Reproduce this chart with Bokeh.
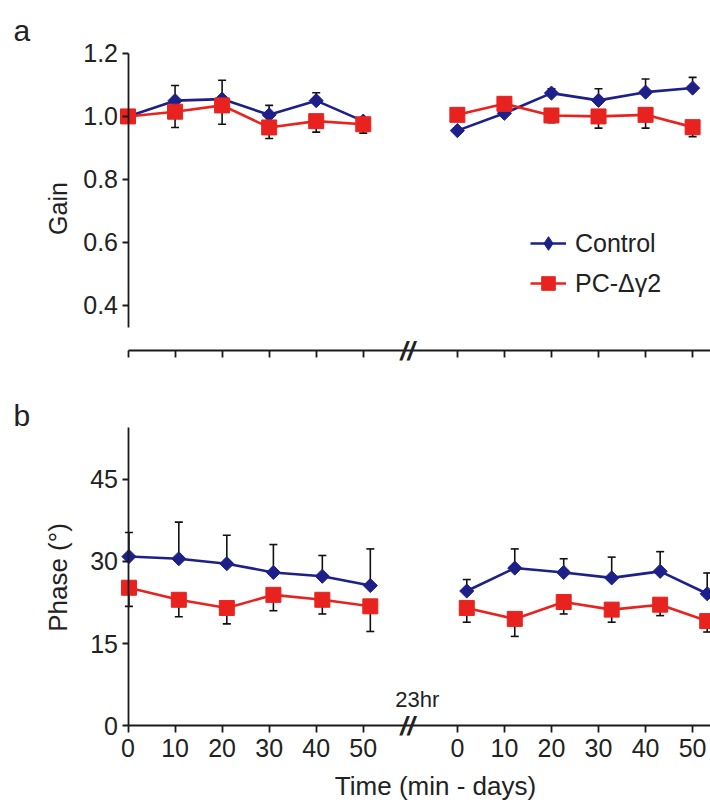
import math
from bokeh.plotting import figure
from bokeh.models import (Range1d, FixedTicker, LinearAxis, Whisker, TeeHead, ColumnDataSource,
                          Legend, LegendItem, Label, NumeralTickFormatter)
from bokeh.layouts import column
from bokeh.embed import file_html
from bokeh.resources import INLINE

# ---------------- data ----------------
gain_time = [0, 10, 20, 30, 40, 50, 70, 80, 90, 100, 110, 120]
gain_ctrl = [1.00, 1.05, 1.055, 1.005, 1.05, 0.985, 0.955, 1.01, 1.074, 1.051, 1.077, 1.09]
gain_ctrl_err = [0, 0.048, 0.06, 0.03, 0.025, 0, 0, 0, 0.014, 0.037, 0.042, 0.034]
gain_pc = [1.00, 1.015, 1.035, 0.965, 0.985, 0.975, 1.005, 1.04, 1.003, 1.0, 1.005, 0.966]
gain_pc_err = [0, 0.05, 0.06, 0.035, 0.035, 0.028, 0, 0, 0.023, 0.037, 0.042, 0.03]

phase_time = [0.2, 10.8, 21.0, 30.9, 41.3, 51.5, 72.0, 82.2, 92.6, 102.8, 113.1, 123.1]
phase_ctrl = [30.9, 30.5, 29.6, 28.0, 27.3, 25.6, 24.6, 28.8, 28.0, 27.0, 28.2, 24.1]
phase_ctrl_err = [4.4, 6.7, 5.2, 5.1, 3.8, 6.7, 2.1, 3.5, 2.5, 3.8, 3.6, 3.8]
phase_pc = [25.2, 23.0, 21.5, 23.9, 23.0, 21.8, 21.5, 19.5, 22.6, 21.2, 22.1, 19.1]
phase_pc_err = [3.4, 3.1, 2.9, 2.9, 2.6, 4.6, 2.6, 3.2, 2.2, 2.3, 2.0, 2.0]

x_ticks = [0, 10, 20, 30, 40, 50, 70, 80, 90, 100, 110, 120]
x_tick_labels = ["0", "10", "20", "30", "40", "50", "0", "10", "20", "30", "40", "50"]
gain_ticks = [0.4, 0.6, 0.8, 1.0, 1.2]
phase_ticks = [0, 15, 30, 45]

# ---------------- style ----------------
FONT = "Liberation Sans"
NAVY = "#1d2088"
RED = "#e8231f"
AX = "#1a1a1a"
TXT = "#222222"
W = 710
XR = (-27.1, 123.8)
X_END = 123.8
SEG = 6  # points per session


def base_fig(height, yr):
    p = figure(width=W, height=height, x_range=Range1d(*XR), y_range=Range1d(*yr),
               output_backend="svg", toolbar_location=None,
               x_axis_location=None, y_axis_location=None,
               min_border_left=0, min_border_right=0,
               min_border_top=0, min_border_bottom=0)
    p.outline_line_color = None
    p.grid.grid_line_color = None
    p.background_fill_color = "white"
    p.border_fill_color = "white"
    return p


def add_axes(p, yticks, ybounds, fmt, x_at, show_xlabels):
    yax = LinearAxis(fixed_location=0, bounds=ybounds, ticker=FixedTicker(ticks=yticks),
                     axis_line_color=AX, axis_line_width=1.8,
                     major_tick_line_color=AX, major_tick_line_width=1.8,
                     major_tick_out=6, major_tick_in=0, minor_tick_line_color=None,
                     major_label_standoff=4, major_label_text_font=FONT,
                     major_label_text_font_size="25px", major_label_text_color=TXT)
    if fmt:
        yax.formatter = NumeralTickFormatter(format=fmt)
    p.add_layout(yax, "left")
    xax = LinearAxis(fixed_location=x_at, bounds=(0, X_END), ticker=FixedTicker(ticks=x_ticks),
                     major_label_overrides={t: l for t, l in zip(x_ticks, x_tick_labels)},
                     axis_line_color=AX, axis_line_width=1.8,
                     major_tick_line_color=AX, major_tick_line_width=1.8,
                     major_tick_out=7, major_tick_in=0, minor_tick_line_color=None,
                     major_label_standoff=6, major_label_text_font=FONT,
                     major_label_text_font_size="25px" if show_xlabels else "0px",
                     major_label_text_color=TXT if show_xlabels else None)
    p.add_layout(xax, "below")


def draw_series(p, xs, ys, errs, color, marker, size, angle, up, legend_marker):
    rs = []
    for s in (slice(0, SEG), slice(SEG, 2 * SEG)):
        rs.append(p.line(xs[s], ys[s], line_color=color, line_width=2.6))
    ex = [x for x, e in zip(xs, errs) if e > 0]
    ey = [y for y, e in zip(ys, errs) if e > 0]
    ee = [e for e in errs if e > 0]
    head = TeeHead(size=8, line_color="#111111", line_width=1.6)
    if up:
        src = ColumnDataSource(dict(x=ex, lo=ey, hi=[y + e for y, e in zip(ey, ee)]))
        wk = Whisker(source=src, base="x", lower="lo", upper="hi", dimension="height",
                     line_color="#111111", line_width=1.6, level="underlay",
                     upper_head=head, lower_head=None)
    else:
        src = ColumnDataSource(dict(x=ex, lo=[y - e for y, e in zip(ey, ee)], hi=ey))
        wk = Whisker(source=src, base="x", lower="lo", upper="hi", dimension="height",
                     line_color="#111111", line_width=1.6, level="underlay",
                     lower_head=head, upper_head=None)
    p.add_layout(wk)
    p.scatter(xs, ys, marker=marker, size=size, angle=angle,
              fill_color=color, line_color=color, line_width=1)
    # hidden twin of the markers, only used to draw the legend symbol
    mk = p.scatter(xs, ys, marker=legend_marker, size=size, fill_color=color,
                   line_color=color, line_width=1, visible=False)
    return rs[0], mk


def label(p, text, x, y, size, xu="screen", yu="screen", align="left", base="alphabetic",
          angle=0, style="normal"):
    p.add_layout(Label(x=x, y=y, x_units=xu, y_units=yu, text=text, text_font=FONT,
                       text_font_size=size, text_align=align, text_baseline=base,
                       angle=angle, text_color=TXT, text_font_style=style))


# ---------------- panel a ----------------
HA = 378
pa = base_fig(HA, (0.168, 1.368))
add_axes(pa, gain_ticks, (0.33, 1.2), "0.0", 0.257, False)
lc, mk_c = draw_series(pa, gain_time, gain_ctrl, gain_ctrl_err, NAVY, "square", 10,
                       math.pi / 4, True, "diamond")
lp, mk_p = draw_series(pa, gain_time, gain_pc, gain_pc_err, RED, "square", 15, 0, False,
                       "square")
leg = Legend(items=[LegendItem(label="Control", renderers=[lc, mk_c]),
                    LegendItem(label="PC-Δγ2", renderers=[lp, mk_p])],
             location=(530, 78), glyph_width=36, glyph_height=34, spacing=6,
             label_text_font=FONT, label_text_font_size="25px", label_text_color=TXT,
             label_standoff=9, padding=0, margin=0, border_line_color=None,
             background_fill_alpha=0)
pa.add_layout(leg)
label(pa, "a", 13, 348, "30px")
label(pa, "Gain", 57, 170, "25px", align="center", base="middle", angle=math.pi / 2)
label(pa, "//", 59.4, 28, "26px", xu="data", align="center", base="middle", style="bold italic")

# ---------------- panel b ----------------
HB = 431
pb = base_fig(HB, (-15.36, 63.47))
add_axes(pb, phase_ticks, (0, 54.5), None, 0, True)
draw_series(pb, phase_time, phase_ctrl, phase_ctrl_err, NAVY, "square", 10, math.pi / 4, True,
            "diamond")
draw_series(pb, phase_time, phase_pc, phase_pc_err, RED, "square", 15, 0, False, "square")
label(pb, "b", 13, 394, "30px")
label(pb, "Phase (°)", 57, 232, "26px", align="center", base="middle", angle=math.pi / 2)
label(pb, "23hr", 61.5, 110, "22px", xu="data", align="center")
label(pb, "//", 59.4, 84, "26px", xu="data", align="center", base="middle", style="bold italic")
label(pb, "Time (min - days)", 435, 24, "26px", align="center", base="middle")

layout = column(pa, pb, spacing=0)
open("out.html", "w").write(file_html(layout, INLINE))
